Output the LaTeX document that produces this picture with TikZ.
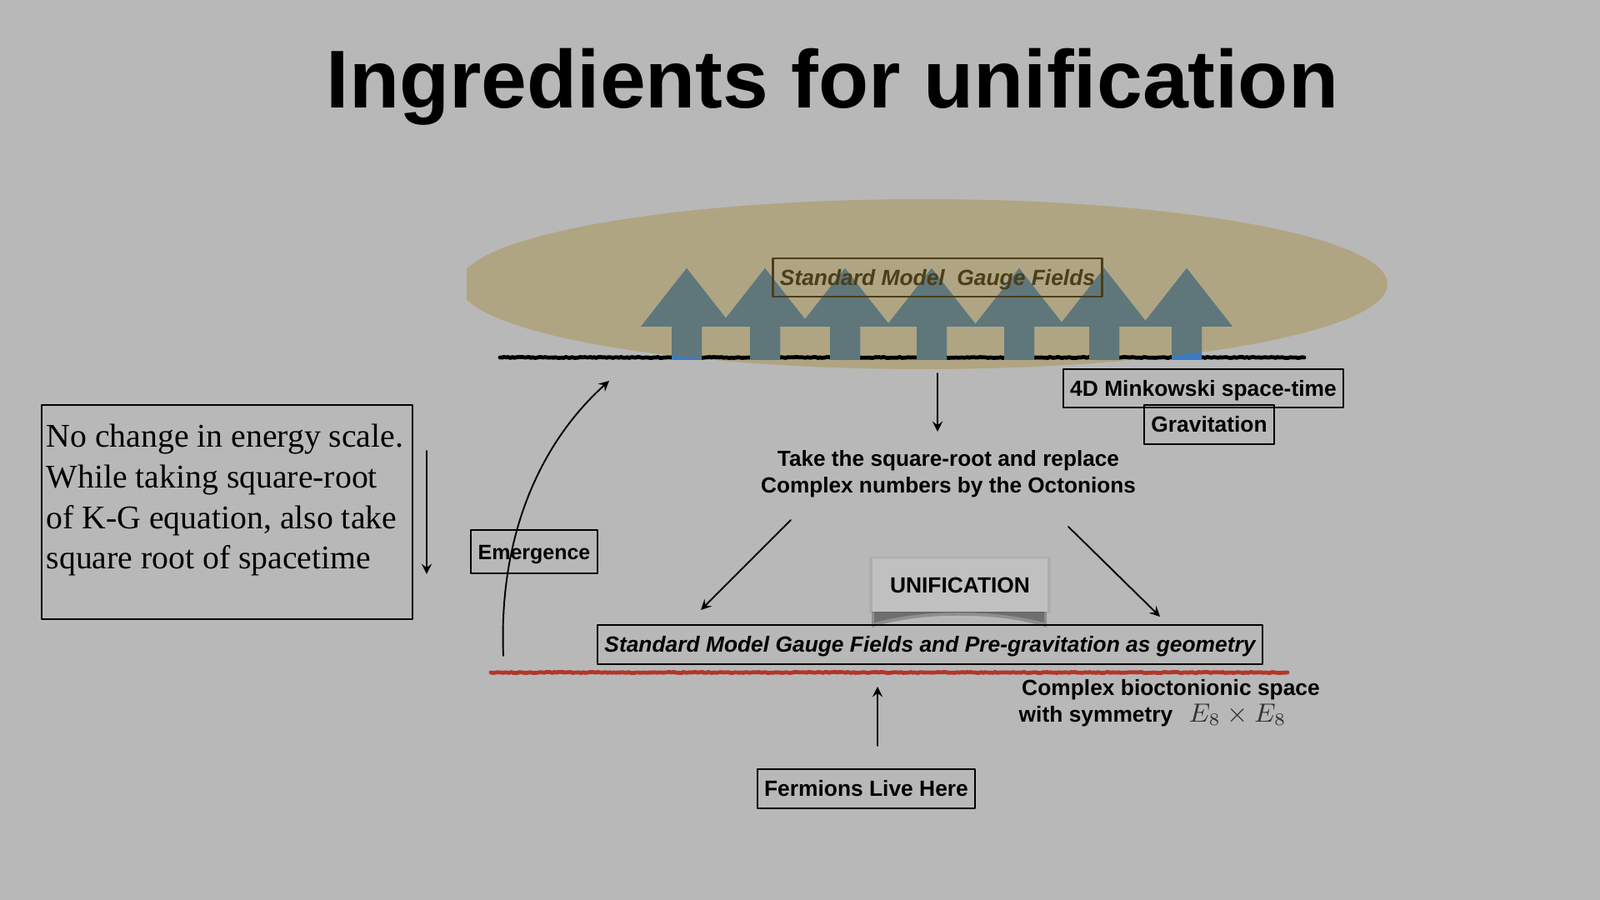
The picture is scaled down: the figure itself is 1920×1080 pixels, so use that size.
\documentclass[tikz,border=0pt]{standalone}
\usepackage{fontspec}
\setmainfont{Liberation Serif}
\setsansfont{Liberation Sans}
\usetikzlibrary{decorations.pathmorphing}
\definecolor{slidebg}{HTML}{B8B8B8}
\definecolor{sand}{HTML}{B0A582}
\definecolor{slate}{HTML}{5F777B}
\definecolor{arrowblue}{HTML}{3B7BC4}
\definecolor{umber}{HTML}{4B3E19}
\definecolor{rust}{HTML}{B3362A}
\definecolor{cardgray}{HTML}{C0C0C0}
\begin{document}
\begin{tikzpicture}[x=0.01cm, y=-0.01cm, line join=round, line cap=round, >=stealth,
    lbl/.style={draw, line width=0.6pt, inner xsep=2.4pt, inner ysep=2pt, text height=0.72em, text depth=0.2em,
      font=\sffamily\bfseries\fontsize{7.5}{9}\selectfont},
    lblit/.style={lbl, font=\sffamily\bfseries\itshape\fontsize{7.5}{9}\selectfont},
    rough/.style={line width=1.35pt, decorate, decoration={random steps, segment length=0.7pt, amplitude=0.18pt}},
    conn/.style={->, line width=0.55pt}]
    \useasboundingbox (0,0) rectangle (1920,1080);
    \fill[slidebg] (0,0) rectangle (1920,1080);
    \node[anchor=base, font=\sffamily\bfseries\fontsize{28}{30}\selectfont] (title) at (999,130) {Ingredients for unification};
    % gauge field cloud
    \begin{scope}
        \clip (560,200) rectangle (1700,470);
        \fill[sand] (1108,341) ellipse [x radius=557, y radius=102];
    \end{scope}
    \draw[rough] (600,429) -- (1565,429); %space-time
    \foreach \t in {824,918,1014,1118,1223,1325,1424}
        \fill[arrowblue] (\t-18,432) -- (\t-18,392) -- (\t-55,392) -- (\t,322) -- (\t+55,392) -- (\t+18,392) -- (\t+18,432) -- cycle;
    \begin{scope}
        \clip (1108,341) ellipse [x radius=557, y radius=102];
        \foreach \t in {824,918,1014,1118,1223,1325,1424}
            \fill[slate] (\t-18,432) -- (\t-18,392) -- (\t-55,392) -- (\t,322) -- (\t+55,392) -- (\t+18,392) -- (\t+18,432) -- cycle;
    \end{scope}
    \node[lblit, draw=umber, text=umber] (gauge) at (1125,333) {Standard Model\ \ Gauge Fields};
    \node[lbl] (mink) at (1444,466) {4D Minkowski space-time};
    \node[lbl] (grav) at (1451,509.5) {Gravitation};
    % left note
    \draw[line width=0.6pt] (50,486) rectangle (495,743);
    \node[anchor=north west, inner sep=0pt, align=left, font=\fontsize{11.3}{13.9}\selectfont] (note) at (55,508)
        {No change in energy scale.\\While taking square-root\\of K-G equation, also take\\square root of spacetime};
    \coordinate (n1) at (512,541); \coordinate (n2) at (512,689);
    \draw[conn] (n1) -- (n2);
    % emergence
    \node[lbl, inner ysep=2.8pt, font=\sffamily\bfseries\fontsize{7.1}{9}\selectfont] (emerg) at (641,662) {Emergence};
    \coordinate (e1) at (604,787); \coordinate (e2) at (731,457);
    \draw[conn] (e1) .. controls (598,640) and (650,530) .. (e2);
    % square root
    \coordinate (g1) at (1125,448); \coordinate (g2) at (1125,518);
    \draw[conn] (g1) -- (g2);
    \node[align=center, font=\sffamily\bfseries\fontsize{7.45}{9.1}\selectfont] (take) at (1138,569)
        {Take the square-root and replace\\Complex numbers by the Octonions};
    \coordinate (l1) at (949,624); \coordinate (l2) at (841,732);
    \coordinate (r1) at (1282,632); \coordinate (r2) at (1392,740);
    \draw[conn] (l1) -- (l2);
    \draw[conn] (r1) -- (r2);
    % unification card
    \fill[black, opacity=0.06] (1043,668) rectangle (1261,736);
    \fill[black, opacity=0.22] (1046,734) -- (1046,753) .. controls (1100,734) and (1202,734) .. (1256,753) -- (1256,734) -- cycle;
    \fill[black, opacity=0.22] (1049,734) -- (1049,747) .. controls (1110,731) and (1192,731) .. (1253,747) -- (1253,734) -- cycle;
    \node[fill=cardgray, minimum width=59.5pt, minimum height=18.2pt, inner sep=0pt,
        font=\sffamily\bfseries\fontsize{7.5}{9}\selectfont] (unif) at (1152,702) {UNIFICATION};
    \node[lblit] (geom) at (1116,773.5) {Standard Model Gauge Fields and Pre-gravitation as geometry};
    \draw[rough, draw=rust] (589,807) -- (1545,807); %octonionic space
    \node[anchor=north west, inner sep=0pt, align=left, font=\sffamily\bfseries\fontsize{7.5}{9.1}\selectfont] (space) at (1222,815)
        {\hspace*{1pt}Complex bioctonionic space\\with symmetry\hspace{5.5pt}{\color{black!80}\fontsize{8.6}{9}\selectfont$E_8\times E_8$}};
    \coordinate (f1) at (1053,895); \coordinate (f2) at (1053,824);
    \draw[conn] (f1) -- (f2);
    \node[lbl] (fermi) at (1039.5,946.5) {Fermions Live Here};
\end{tikzpicture}
\end{document}
